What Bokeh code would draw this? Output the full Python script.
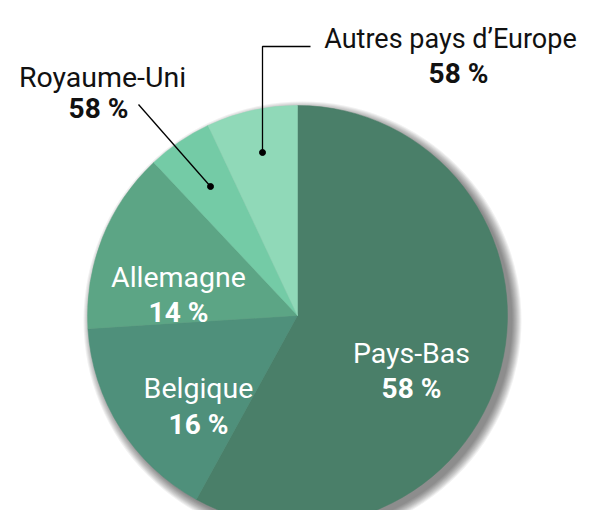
import numpy as np
from bokeh.plotting import figure
from bokeh.models import Range1d, ColumnDataSource
from bokeh.core.properties import value
from bokeh.embed import file_html
from bokeh.resources import INLINE

# ---- data ----
countries = ["Pays-Bas", "Belgique", "Allemagne", "Royaume-Uni", "Autres pays d\u2019Europe"]
shares = [58, 16, 14, 5, 7]
pct_labels = ["58 %", "16 %", "14 %", "58 %", "58 %"]
colors = ["#4a7f69", "#4f907b", "#5ca585", "#74cba6", "#90d9b8"]

W, H = 583, 510
PAGE_H = 526


def Y(sy):
    return PAGE_H - sy


p = figure(width=W, height=H, output_backend="svg", toolbar_location=None,
           x_range=Range1d(0, W), y_range=Range1d(PAGE_H - H, PAGE_H),
           min_border=0)
p.axis.visible = False
p.grid.visible = False
p.outline_line_color = None
p.background_fill_color = "white"

cx, cy, R = 297, Y(315), 210

# soft shadow
for k in range(10):
    p.circle(x=[cx + 5], y=[cy - 5], radius=R + 9 - k, fill_color="black",
             fill_alpha=0.055, line_color=None)

frac = np.array(shares, dtype=float) / sum(shares)
cum = np.concatenate([[0], np.cumsum(frac)])
start = np.pi / 2 - cum[1:] * 2 * np.pi
end = np.pi / 2 - cum[:-1] * 2 * np.pi
src = ColumnDataSource(dict(start=start, end=end, color=colors))
p.wedge(x=cx, y=cy, radius=R, start_angle="start", end_angle="end",
        fill_color="color", line_color="color", line_width=0.5, source=src)

font = value("Roboto")

# inside labels
inside = [(411, 353, 388), (198, 388, 424), (178, 277, 312)]
for i, (lx, b1, b2) in enumerate(inside):
    p.text(x=[lx], y=[Y(b1)], text=[countries[i]], text_font=font,
           text_font_size="28.5px", text_color="white", text_align="center",
           text_baseline="alphabetic")
    p.text(x=[lx], y=[Y(b2)], text=[pct_labels[i]], text_font=font,
           text_font_size="28px", text_font_style="bold", text_color="white",
           text_align="center", text_baseline="alphabetic")

# outside labels: (title x, title baseline, pct x, pct baseline, title size)
outside = {3: (102, 77, 98, 108, "28.5px"), 4: (450, 38, 458, 73, "27px")}
for i, (lx, b1, px, b2, fs) in outside.items():
    p.text(x=[lx], y=[Y(b1)], text=[countries[i]], text_font=font,
           text_font_size=fs, text_color="#111111", text_align="center",
           text_baseline="alphabetic")
    p.text(x=[px], y=[Y(b2)], text=[pct_labels[i]], text_font=font,
           text_font_size="28px", text_font_style="bold", text_color="#111111",
           text_align="center", text_baseline="alphabetic")

# leader lines
p.line(x=[262, 262, 310], y=[Y(152), Y(46), Y(46)], line_color="black", line_width=1.3)
p.line(x=[210, 138], y=[Y(186), Y(104)], line_color="black", line_width=1.3)
p.scatter(x=[262, 210], y=[Y(152), Y(186)], size=6, color="black")

open("out.html", "w").write(file_html(p, INLINE))
